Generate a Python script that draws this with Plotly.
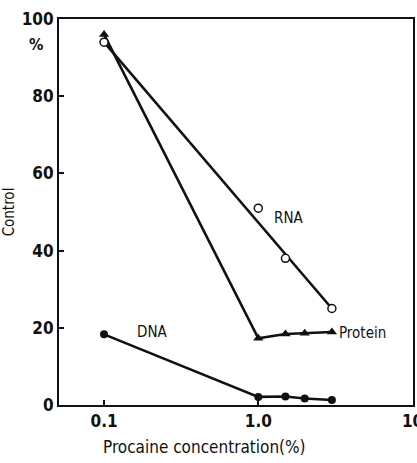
import plotly.graph_objects as go

conc_rna = [0.1, 1.0, 1.5, 3.0]
rna = [94, 51, 38, 25]
conc_protein = [0.1, 1.0, 1.5, 2.0, 3.0]
protein = [96, 17.3, 18.4, 18.6, 18.9]
conc_dna = [0.1, 1.0, 1.5, 2.0, 3.0]
dna = [18.3, 2.1, 2.2, 1.7, 1.3]

x_ticks = [0.1, 1.0, 10]
x_tick_labels = ["0.1", "1.0", "10"]
y_ticks = [0, 20, 40, 60, 80, 100]

FONT = "DejaVu Sans Condensed, Roboto, sans-serif"
BLACK = "#111"

fig = go.Figure()
# RNA: straight trend line from first to last point, markers separate
fig.add_trace(go.Scatter(x=[conc_rna[0], conc_rna[-1]], y=[rna[0], rna[-1]], mode="lines",
                         line=dict(color=BLACK, width=2.6), showlegend=False))
fig.add_trace(go.Scatter(x=conc_protein, y=protein, mode="lines+markers",
                         line=dict(color=BLACK, width=2.6),
                         marker=dict(symbol="triangle-up", size=9, color=BLACK), showlegend=False))
fig.add_trace(go.Scatter(x=conc_dna, y=dna, mode="lines+markers",
                         line=dict(color=BLACK, width=2.6),
                         marker=dict(symbol="circle", size=8, color=BLACK), showlegend=False))
fig.add_trace(go.Scatter(x=conc_rna, y=rna, mode="markers",
                         marker=dict(symbol="circle", size=8, color="white",
                                     line=dict(color=BLACK, width=1.5)), showlegend=False))

fig.add_annotation(x=0.1959, y=48.5, xref="x", yref="y", text="RNA", showarrow=False,
                   font=dict(family=FONT, size=15, color=BLACK), xanchor="center")
fig.add_annotation(x=0.51, y=18.6, xref="x", yref="y", text="Protein", showarrow=False,
                   font=dict(family=FONT, size=15, color=BLACK), xanchor="left")
fig.add_annotation(x=-0.688, y=18.8, xref="x", yref="y", text="DNA", showarrow=False,
                   font=dict(family=FONT, size=15, color=BLACK), xanchor="center")
fig.add_annotation(x=-0.065, y=93.5, xref="paper", yref="y", text="<b>%</b>", showarrow=False,
                   font=dict(family=FONT, size=16, color=BLACK), xanchor="center")
fig.add_annotation(x=0.412, y=-0.078, xref="paper", yref="paper", text="Procaine concentration(%)",
                   showarrow=False, yanchor="top", xanchor="center",
                   font=dict(family=FONT, size=17, color=BLACK))

fig.update_xaxes(type="log", range=[-1.292, 1.003], tickvals=x_ticks, ticktext=x_tick_labels,
                 ticks="inside", ticklen=5, tickwidth=1.5, tickcolor=BLACK, ticklabeloverflow="allow",
                 automargin=False,
                 showline=True, linecolor=BLACK, linewidth=2, mirror=True, showgrid=False, zeroline=False,
                 tickfont=dict(family=FONT, size=17, color=BLACK, weight="bold"))
fig.update_yaxes(range=[0, 100], tickvals=y_ticks, automargin=False,
                 ticks="inside", ticklen=5, tickwidth=1.5, tickcolor=BLACK,
                 showline=True, linecolor=BLACK, linewidth=2, mirror=True, showgrid=False, zeroline=False,
                 tickfont=dict(family=FONT, size=17, color=BLACK, weight="bold"),
                 title=dict(text="Control", font=dict(family=FONT, size=15, color=BLACK), standoff=8))
fig.update_layout(width=417, height=463, margin=dict(l=59, r=4, t=19, b=58),
                  plot_bgcolor="white", paper_bgcolor="white")
fig.write_html("out.html")
